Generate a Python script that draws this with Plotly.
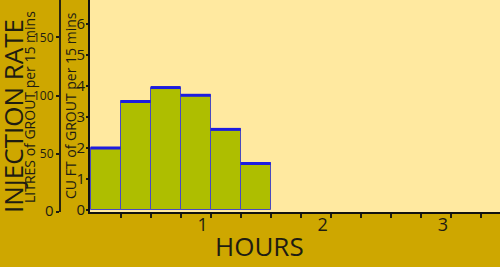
import plotly.graph_objects as go

# ---- data ----
interval_start = [0.0, 0.25, 0.5, 0.75, 1.0, 1.25]   # hours
interval_width = 0.25
cuft_per_15min = [2.0, 3.5, 3.95, 3.7, 2.6, 1.5]
hour_ticks = [0.25 * i for i in range(1, 14)]
hour_labels = ["1" if abs(t - 1) < 1e-9 else "2" if abs(t - 2) < 1e-9 else "3" if abs(t - 3) < 1e-9 else "" for t in hour_ticks]
cuft_ticks = [0, 1, 2, 3, 4, 5, 6]
litre_ticks = [0, 50, 100, 150]
litre_labels = ["<span style='font-size:15px'>0</span>", "50", "100", "150"]

W, H = 500, 267
GOLD = "#CEA700"
CREAM = "#FFE9A0"
OLIVE = "#AEBE00"
BLUE = "#1C1CE0"
INK = "#1E1C12"
FONT = "Open Sans"

centers = [s + interval_width / 2 for s in interval_start]
top_x, top_y = [], []
for s, v in zip(interval_start, cuft_per_15min):
    top_x += [s, s + interval_width, None]
    top_y += [v, v, None]

fig = go.Figure()
fig.add_trace(go.Bar(x=centers, y=cuft_per_15min, width=interval_width,
                     marker=dict(color=OLIVE, line=dict(color="#4a4ac0", width=1)),
                     showlegend=False, hoverinfo="skip"))
fig.add_trace(go.Scatter(x=top_x, y=top_y, mode="lines",
                         line=dict(color=BLUE, width=3), showlegend=False,
                         hoverinfo="skip"))
fig.add_trace(go.Scatter(x=[None], y=[None], yaxis="y2", showlegend=False,
                         hoverinfo="skip"))

def px(x):
    return x / W

def py(y):
    return 1 - y / H

fig.update_layout(
    template="none",
    width=W, height=H, autosize=False,
    margin=dict(l=0, r=0, t=0, b=0, pad=0),
    paper_bgcolor=GOLD, plot_bgcolor=CREAM,
    font=dict(family=FONT, color=INK),
    bargap=0,
    xaxis=dict(domain=[px(90), 1], anchor="y", range=[-0.005, 3.41],
               automargin=False,
               tickvals=hour_ticks, ticktext=hour_labels,
               tickfont=dict(size=18, color=INK), ticklabelshift=-8,
               ticklabelstandoff=-9,
               ticks="outside", ticklen=4, tickwidth=2, tickcolor=INK,
               showline=True, linecolor="#111", linewidth=2,
               showgrid=False, zeroline=False),
    yaxis=dict(domain=[py(212), 1], anchor="x", range=[-0.065, 6.774],
               automargin=False,
               tickvals=cuft_ticks, tickfont=dict(size=15, color=INK),
               ticklabelstandoff=-2,
               ticks="outside", ticklen=2, tickwidth=2, tickcolor=INK,
               showline=True, linecolor="#111", linewidth=2,
               showgrid=False, zeroline=False),
    yaxis2=dict(overlaying="y", anchor="free", position=px(60), side="left",
                automargin=False,
                range=[0, 182.1], tickvals=litre_ticks, ticktext=litre_labels,
                tickfont=dict(size=12, color=INK),
                ticks="outside", ticklen=3, tickwidth=2, tickcolor=INK,
                showline=True, linecolor="#2a2410", linewidth=2,
                showgrid=False, zeroline=False),
    annotations=[
        dict(text="INJECTION RATE", x=px(13), y=py(116), xref="paper", yref="paper",
             textangle=-90, showarrow=False, font=dict(size=26, color=INK),
             xanchor="center", yanchor="middle"),
        dict(text="LITRES of GROUT per 15 mins", x=px(29), y=py(107), xref="paper", yref="paper",
             textangle=-90, showarrow=False, font=dict(size=14, color=INK),
             xanchor="center", yanchor="middle"),
        dict(text="CU FT of GROUT per 15 mins", x=px(70), y=py(106), xref="paper", yref="paper",
             textangle=-90, showarrow=False, font=dict(size=14, color=INK),
             xanchor="center", yanchor="middle"),
        dict(text="HOURS", x=px(259.5), y=py(246), xref="paper", yref="paper",
             showarrow=False, font=dict(size=26, color=INK),
             xanchor="center", yanchor="middle"),
    ],
)

fig.write_html("out.html")
